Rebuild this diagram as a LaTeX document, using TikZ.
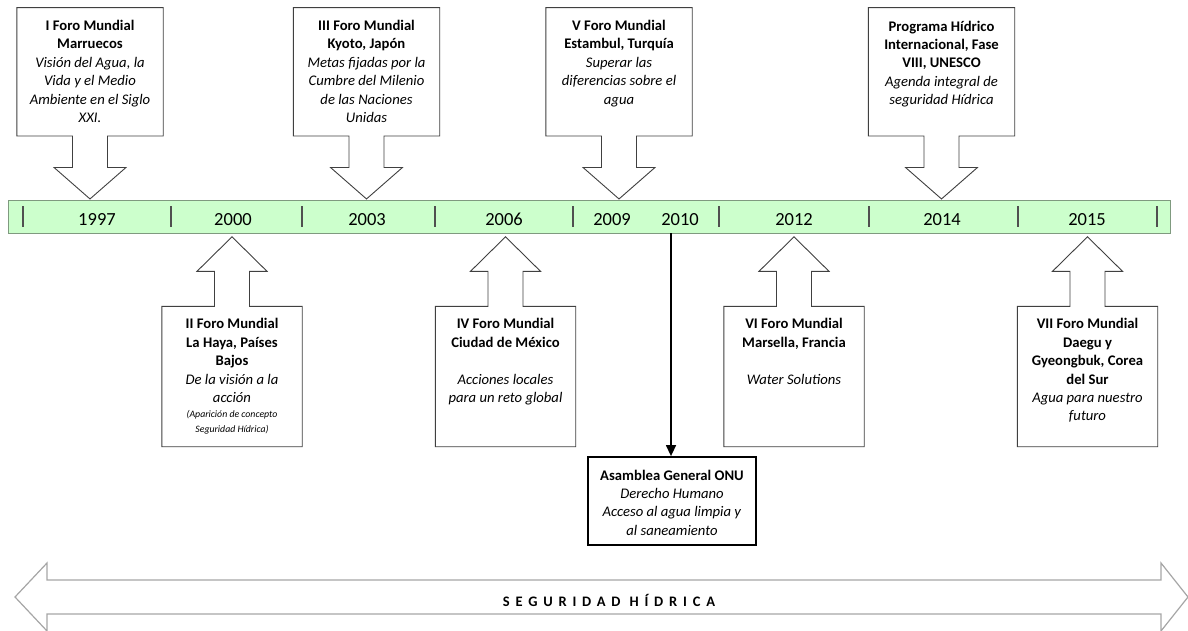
\documentclass[tikz,border=0pt]{standalone}
\usepackage{fontspec}
\setmainfont{Carlito}
\usetikzlibrary{arrows.meta,calc}
\definecolor{barfill}{HTML}{CCFFCC}
\definecolor{barline}{HTML}{7F9A7F}
\definecolor{tickc}{HTML}{505050}
\definecolor{bigarrow}{HTML}{A6A6A6}
\definecolor{calline}{HTML}{404040}
\newcommand\bodyfont{\fontsize{14.67}{18.4}\selectfont}
\newcommand\smallfont{\fontsize{9.8}{15}\selectfont\itshape}
\newcommand\downcall[1]{%
  \draw[calloutline] (#1.south west) -- (#1.north west) -- (#1.north east) -- (#1.south east)
    -- ([xshift=17.5pt]#1.south) -- ([xshift=17.5pt,yshift=-31.5pt]#1.south)
    -- ([xshift=36pt,yshift=-31.5pt]#1.south) -- ([yshift=-63pt]#1.south)
    -- ([xshift=-36pt,yshift=-31.5pt]#1.south) -- ([xshift=-17.5pt,yshift=-31.5pt]#1.south)
    -- ([xshift=-17.5pt]#1.south) -- cycle;}
\newcommand\upcall[1]{%
  \draw[calloutline] (#1.north west) -- (#1.south west) -- (#1.south east) -- (#1.north east)
    -- ([xshift=17.5pt]#1.north) -- ([xshift=17.5pt,yshift=35pt]#1.north)
    -- ([xshift=35pt,yshift=35pt]#1.north) -- ([yshift=69.5pt]#1.north)
    -- ([xshift=-35pt,yshift=35pt]#1.north) -- ([xshift=-17.5pt,yshift=35pt]#1.north)
    -- ([xshift=-17.5pt]#1.north) -- cycle;}
\begin{document}
\begin{tikzpicture}[x=1pt,y=-1pt,
  topbox/.style={minimum width=146pt,minimum height=128pt,inner sep=0pt,draw=none},
  botbox/.style={minimum width=140pt,minimum height=140pt,inner sep=0pt,draw=none},
  calloutline/.style={draw=calline,line width=0.9pt,fill=white,line join=miter},
  boxtext/.style={anchor=north,align=center,inner sep=0pt,font=\bodyfont},
  year/.style={font=\fontsize{18.5}{22}\selectfont,inner sep=0pt,anchor=base},
  tick/.style={draw=tickc,line width=1.1pt}]
\useasboundingbox (0,0) rectangle (1188,630);

% timeline bar
\node[draw=barline,fill=barfill,line width=1pt,minimum width=1162pt,minimum height=33pt,inner sep=0pt] (bar) at (589,216.5) {};
\foreach \x/\n in {23/t1,171/t2,302/t3,435/t4,573/t5,719/t6,869/t7,1018/t8,1157/t9}{
  \coordinate (\n a) at (\x,206); \coordinate (\n b) at (\x,227);
  \draw[tick] (\n a) -- (\n b);}
\foreach \x/\y/\n in {97/1997/y1,233/2000/y2,367/2003/y3,504/2006/y4,612/2009/y5,680/2010/y6,794/2012/y7,942/2014/y8,1087/2015/y9}{
  \node[year] (\n) at (\x,225.5) {\y};}

% top callouts
\node[topbox] (c1) at (90,71.75) {};
\downcall{c1}
\node[boxtext] (c1t) at ([yshift=-12.5pt]c1.north) {\textbf{I Foro Mundial}\\\textbf{Marruecos}\\\textit{Visión del Agua, la}\\\textit{Vida y el Medio}\\\textit{Ambiente en el Siglo}\\\textit{XXI.}};

\node[topbox] (c3) at (366.5,71.75) {};
\downcall{c3}
\node[boxtext] (c3t) at ([yshift=-12.5pt]c3.north) {\textbf{III Foro Mundial}\\\textbf{Kyoto, Japón}\\\textit{Metas fijadas por la}\\\textit{Cumbre del Milenio}\\\textit{de las Naciones}\\\textit{Unidas}};

\node[topbox] (c5) at (619,71.75) {};
\downcall{c5}
\node[boxtext] (c5t) at ([yshift=-12.5pt]c5.north) {\textbf{V Foro Mundial}\\\textbf{Estambul, Turquía}\\\textit{Superar las}\\\textit{diferencias sobre el}\\\textit{agua}};

\node[topbox] (c8) at (941.5,71.75) {};
\downcall{c8}
\node[boxtext] (c8t) at ([yshift=-13pt]c8.north) {\textbf{Programa Hídrico}\\\textbf{Internacional, Fase}\\\textbf{VIII, UNESCO}\\\textit{Agenda integral de}\\\textit{seguridad Hídrica}};

% bottom callouts
\node[botbox] (c2) at (232,376.5) {};
\upcall{c2}
\node[boxtext] (c2t) at ([yshift=-12pt]c2.north) {\textbf{II Foro Mundial}\\\textbf{La Haya, Países}\\\textbf{Bajos}\\\textit{De la visión a la}\\\textit{acción}\\[-3pt]{\smallfont (Aparición de concepto}\\[-4pt]{\smallfont Seguridad Hídrica)}};

\node[botbox] (c4) at (505.5,376.5) {};
\upcall{c4}
\node[boxtext] (c4t) at ([yshift=-12pt]c4.north) {\textbf{IV Foro Mundial}\\\textbf{Ciudad de México}\\[18.4pt]\textit{Acciones locales}\\\textit{para un reto global}};

\node[botbox] (c6) at (794,376.5) {};
\upcall{c6}
\node[boxtext] (c6t) at ([yshift=-12pt]c6.north) {\textbf{VI Foro Mundial}\\\textbf{Marsella, Francia}\\[18.4pt]\textit{Water Solutions}};

\node[botbox] (c7) at (1087.5,376.5) {};
\upcall{c7}
\node[boxtext] (c7t) at ([yshift=-12pt]c7.north) {\textbf{VII Foro Mundial}\\\textbf{Daegu y}\\\textbf{Gyeongbuk, Corea}\\\textbf{del Sur}\\\textit{Agua para nuestro}\\\textit{futuro}};

% ONU
\node[draw=black,line width=1.8pt,minimum width=168pt,minimum height=88pt,inner sep=0pt] (onu) at (672,501) {};
\node[boxtext] (onut) at ([yshift=-13.5pt]onu.north) {\textbf{Asamblea General ONU}\\\textit{Derecho Humano}\\\textit{Acceso al agua limpia y}\\\textit{al saneamiento}};
\coordinate (drop) at (671,233);
\draw[line width=1.4pt,-{Triangle[width=10pt,length=11pt]}] (drop) -- (drop |- onu.north);

% big double arrow
\coordinate (L) at (15,597);
\coordinate (R) at (1188,597);
\draw[draw=bigarrow,line width=1.2pt,fill=white,line join=miter]
  (L) -- (47,563) -- (47,580) -- (1161,580) -- (1161,563) -- (R)
  -- (1161,631) -- (1161,614) -- (47,614) -- (47,631) -- cycle;
\node[font=\fontsize{14.5}{16}\selectfont\bfseries\addfontfeature{LetterSpace=40},inner sep=0pt] (sh) at (609,600) {SEGURIDAD HÍDRICA};
\end{tikzpicture}
\end{document}
